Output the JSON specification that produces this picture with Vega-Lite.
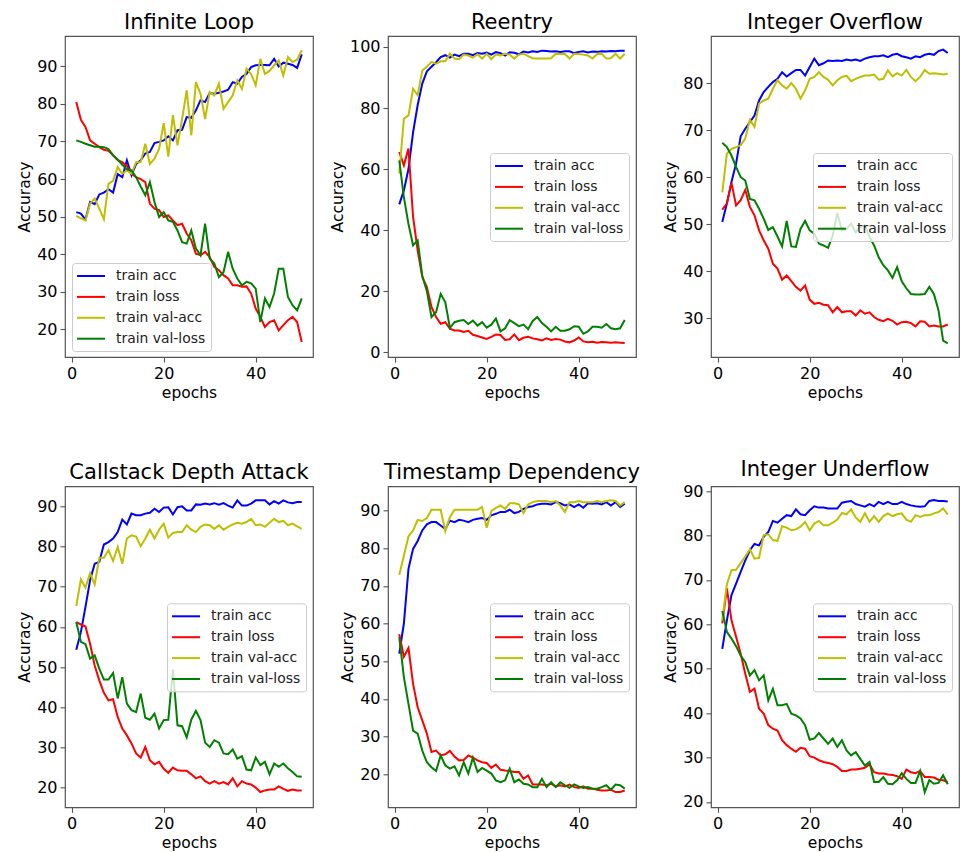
{
"$schema": "https://vega.github.io/schema/vega-lite/v6.json",
"background": "white",
"padding": {"left": 17, "top": 11, "right": 2, "bottom": 5},
"config": {
  "font": "DejaVu Sans",
  "view": {"stroke": "#555", "strokeWidth": 1.2},
  "axis": {"labelFont": "DejaVu Sans", "labelFontSize": 16, "labelColor": "#000", "titleFont": "DejaVu Sans", "titleFontSize": 15.5, "titleFontWeight": "normal", "titleColor": "#000", "tickColor": "#555", "tickSize": 5, "tickWidth": 1.1, "domain": false, "grid": false, "labelPadding": 3, "titlePadding": 4},
  "title": {"font": "DejaVu Sans", "fontSize": 21, "fontWeight": "normal", "color": "#000", "baseline": "alphabetic", "offset": 3, "anchor": "middle"},
  "legend": {"title": null, "orient": "none", "labelFont": "DejaVu Sans", "labelFontSize": 13.9, "labelColor": "#222", "symbolType": "M-2,0H2", "symbolSize": 196, "symbolStrokeWidth": 2, "symbolOffset": 6, "labelOffset": 17, "rowPadding": 5.9, "padding": 5, "fillColor": "rgba(255,255,255,0.8)", "strokeColor": "#cccccc", "cornerRadius": 3},
  "line": {"strokeWidth": 2}
},
"datasets": {
"il": [
{"e":1,"train acc":51.2,"train loss":80.5,"train val-acc":50.2,"train val-loss":70.3},
{"e":2,"train acc":50.8,"train loss":75.8,"train val-acc":49.5,"train val-loss":69.9},
{"e":3,"train acc":49.2,"train loss":73.9,"train val-acc":49.0,"train val-loss":69.4},
{"e":4,"train acc":53.9,"train loss":70.3,"train val-acc":53.5,"train val-loss":69.0},
{"e":5,"train acc":53.3,"train loss":69.4,"train val-acc":54.8,"train val-loss":68.6},
{"e":6,"train acc":55.9,"train loss":68.5,"train val-acc":52.1,"train val-loss":68.6},
{"e":7,"train acc":56.4,"train loss":67.8,"train val-acc":49.3,"train val-loss":68.5},
{"e":8,"train acc":57.3,"train loss":67.5,"train val-acc":58.8,"train val-loss":68.0},
{"e":9,"train acc":56.4,"train loss":66.3,"train val-acc":59.5,"train val-loss":66.3},
{"e":10,"train acc":61.3,"train loss":65.0,"train val-acc":63.2,"train val-loss":65.2},
{"e":11,"train acc":60.5,"train loss":64.5,"train val-acc":61.4,"train val-loss":63.8},
{"e":12,"train acc":65.0,"train loss":63.5,"train val-acc":62.3,"train val-loss":62.6},
{"e":13,"train acc":61.0,"train loss":61.4,"train val-acc":61.4,"train val-loss":62.3},
{"e":14,"train acc":64.0,"train loss":60.5,"train val-acc":64.5,"train val-loss":60.5},
{"e":15,"train acc":65.0,"train loss":60.0,"train val-acc":64.5,"train val-loss":58.0},
{"e":16,"train acc":66.8,"train loss":59.2,"train val-acc":69.4,"train val-loss":55.7},
{"e":17,"train acc":67.2,"train loss":53.4,"train val-acc":64.0,"train val-loss":59.2},
{"e":18,"train acc":69.6,"train loss":52.1,"train val-acc":65.4,"train val-loss":53.9},
{"e":19,"train acc":69.9,"train loss":51.7,"train val-acc":68.0,"train val-loss":49.9},
{"e":20,"train acc":70.3,"train loss":49.9,"train val-acc":74.9,"train val-loss":51.2},
{"e":21,"train acc":71.4,"train loss":50.3,"train val-acc":66.0,"train val-loss":49.0},
{"e":22,"train acc":70.3,"train loss":49.0,"train val-acc":77.0,"train val-loss":48.6},
{"e":23,"train acc":73.0,"train loss":47.7,"train val-acc":69.0,"train val-loss":46.3},
{"e":24,"train acc":73.1,"train loss":48.1,"train val-acc":76.0,"train val-loss":43.2},
{"e":25,"train acc":76.5,"train loss":45.5,"train val-acc":83.6,"train val-loss":42.8},
{"e":26,"train acc":76.3,"train loss":43.7,"train val-acc":71.6,"train val-loss":46.3},
{"e":27,"train acc":78.3,"train loss":40.1,"train val-acc":85.8,"train val-loss":41.5},
{"e":28,"train acc":81.0,"train loss":39.7,"train val-acc":82.7,"train val-loss":39.7},
{"e":29,"train acc":80.5,"train loss":40.6,"train val-acc":76.0,"train val-loss":48.1},
{"e":30,"train acc":82.9,"train loss":39.2,"train val-acc":83.2,"train val-loss":38.8},
{"e":31,"train acc":82.7,"train loss":36.6,"train val-acc":82.3,"train val-loss":37.5},
{"e":32,"train acc":83.0,"train loss":35.7,"train val-acc":85.4,"train val-loss":33.9},
{"e":33,"train acc":83.3,"train loss":34.4,"train val-acc":78.7,"train val-loss":35.2},
{"e":34,"train acc":83.8,"train loss":33.5,"train val-acc":80.5,"train val-loss":40.6},
{"e":35,"train acc":85.8,"train loss":31.7,"train val-acc":82.3,"train val-loss":36.1},
{"e":36,"train acc":85.4,"train loss":31.7,"train val-acc":86.3,"train val-loss":33.5},
{"e":37,"train acc":87.2,"train loss":31.3,"train val-acc":84.0,"train val-loss":31.7},
{"e":38,"train acc":88.0,"train loss":31.4,"train val-acc":89.4,"train val-loss":32.6},
{"e":39,"train acc":89.8,"train loss":29.5,"train val-acc":88.0,"train val-loss":32.2},
{"e":40,"train acc":90.3,"train loss":25.5,"train val-acc":85.0,"train val-loss":30.8},
{"e":41,"train acc":90.4,"train loss":23.3,"train val-acc":92.0,"train val-loss":21.9},
{"e":42,"train acc":90.4,"train loss":20.6,"train val-acc":88.0,"train val-loss":28.2},
{"e":43,"train acc":90.3,"train loss":21.9,"train val-acc":88.8,"train val-loss":25.9},
{"e":44,"train acc":92.0,"train loss":22.4,"train val-acc":90.3,"train val-loss":29.5},
{"e":45,"train acc":90.0,"train loss":19.7,"train val-acc":91.6,"train val-loss":36.1},
{"e":46,"train acc":91.0,"train loss":21.1,"train val-acc":87.6,"train val-loss":36.1},
{"e":47,"train acc":90.7,"train loss":22.4,"train val-acc":92.5,"train val-loss":28.6},
{"e":48,"train acc":90.4,"train loss":23.3,"train val-acc":91.2,"train val-loss":26.4},
{"e":49,"train acc":89.6,"train loss":21.9,"train val-acc":91.8,"train val-loss":25.0},
{"e":50,"train acc":93.2,"train loss":16.6,"train val-acc":94.3,"train val-loss":28.2}
],
"re": [
{"e":1,"train acc":48.4,"train loss":65.6,"train val-acc":58.5,"train val-loss":62.8},
{"e":2,"train acc":53.0,"train loss":61.2,"train val-acc":76.5,"train val-loss":50.8},
{"e":3,"train acc":60.0,"train loss":66.7,"train val-acc":77.6,"train val-loss":42.0},
{"e":4,"train acc":72.0,"train loss":44.3,"train val-acc":86.3,"train val-loss":35.0},
{"e":5,"train acc":81.0,"train loss":33.3,"train val-acc":84.2,"train val-loss":36.6},
{"e":6,"train acc":88.0,"train loss":24.6,"train val-acc":92.3,"train val-loss":25.0},
{"e":7,"train acc":92.0,"train loss":21.3,"train val-acc":93.5,"train val-loss":20.0},
{"e":8,"train acc":93.5,"train loss":14.8,"train val-acc":95.1,"train val-loss":11.5},
{"e":9,"train acc":95.0,"train loss":11.5,"train val-acc":94.5,"train val-loss":13.1},
{"e":10,"train acc":96.7,"train loss":9.3,"train val-acc":95.3,"train val-loss":19.1},
{"e":11,"train acc":97.3,"train loss":9.8,"train val-acc":95.3,"train val-loss":16.4},
{"e":12,"train acc":96.5,"train loss":7.7,"train val-acc":97.8,"train val-loss":7.9},
{"e":13,"train acc":97.5,"train loss":7.1,"train val-acc":96.2,"train val-loss":9.8},
{"e":14,"train acc":97.0,"train loss":7.1,"train val-acc":96.0,"train val-loss":10.3},
{"e":15,"train acc":97.8,"train loss":6.6,"train val-acc":97.5,"train val-loss":10.5},
{"e":16,"train acc":97.8,"train loss":7.0,"train val-acc":97.2,"train val-loss":9.2},
{"e":17,"train acc":97.3,"train loss":5.7,"train val-acc":96.5,"train val-loss":10.3},
{"e":18,"train acc":98.0,"train loss":5.3,"train val-acc":97.6,"train val-loss":8.7},
{"e":19,"train acc":97.8,"train loss":4.8,"train val-acc":96.2,"train val-loss":9.8},
{"e":20,"train acc":98.2,"train loss":4.3,"train val-acc":97.8,"train val-loss":8.0},
{"e":21,"train acc":97.5,"train loss":5.0,"train val-acc":96.0,"train val-loss":9.0},
{"e":22,"train acc":98.3,"train loss":5.8,"train val-acc":97.5,"train val-loss":11.0},
{"e":23,"train acc":98.0,"train loss":5.6,"train val-acc":97.2,"train val-loss":6.8},
{"e":24,"train acc":97.2,"train loss":4.0,"train val-acc":97.8,"train val-loss":7.8},
{"e":25,"train acc":98.3,"train loss":4.2,"train val-acc":97.5,"train val-loss":10.5},
{"e":26,"train acc":98.1,"train loss":5.8,"train val-acc":96.2,"train val-loss":9.5},
{"e":27,"train acc":97.6,"train loss":3.9,"train val-acc":97.5,"train val-loss":8.5},
{"e":28,"train acc":98.5,"train loss":4.7,"train val-acc":97.8,"train val-loss":9.0},
{"e":29,"train acc":98.2,"train loss":5.0,"train val-acc":97.0,"train val-loss":7.5},
{"e":30,"train acc":98.6,"train loss":4.5,"train val-acc":96.3,"train val-loss":10.2},
{"e":31,"train acc":98.4,"train loss":4.2,"train val-acc":96.2,"train val-loss":11.5},
{"e":32,"train acc":98.8,"train loss":3.8,"train val-acc":96.2,"train val-loss":9.5},
{"e":33,"train acc":98.7,"train loss":4.5,"train val-acc":96.2,"train val-loss":8.3},
{"e":34,"train acc":98.5,"train loss":4.0,"train val-acc":96.3,"train val-loss":6.8},
{"e":35,"train acc":98.6,"train loss":4.3,"train val-acc":97.8,"train val-loss":8.3},
{"e":36,"train acc":98.4,"train loss":4.1,"train val-acc":97.7,"train val-loss":7.0},
{"e":37,"train acc":98.6,"train loss":3.5,"train val-acc":97.7,"train val-loss":7.0},
{"e":38,"train acc":98.6,"train loss":3.2,"train val-acc":96.2,"train val-loss":7.5},
{"e":39,"train acc":98.0,"train loss":3.8,"train val-acc":97.8,"train val-loss":8.5},
{"e":40,"train acc":98.4,"train loss":4.8,"train val-acc":97.7,"train val-loss":8.3},
{"e":41,"train acc":98.6,"train loss":3.5,"train val-acc":97.5,"train val-loss":6.0},
{"e":42,"train acc":98.2,"train loss":3.2,"train val-acc":97.2,"train val-loss":6.8},
{"e":43,"train acc":98.5,"train loss":3.4,"train val-acc":96.2,"train val-loss":8.3},
{"e":44,"train acc":98.4,"train loss":3.1,"train val-acc":97.7,"train val-loss":8.3},
{"e":45,"train acc":98.6,"train loss":3.3,"train val-acc":97.8,"train val-loss":8.0},
{"e":46,"train acc":98.5,"train loss":3.2,"train val-acc":96.2,"train val-loss":9.2},
{"e":47,"train acc":98.7,"train loss":3.1,"train val-acc":96.3,"train val-loss":7.8},
{"e":48,"train acc":98.6,"train loss":3.2,"train val-acc":97.8,"train val-loss":7.5},
{"e":49,"train acc":98.8,"train loss":3.1,"train val-acc":96.2,"train val-loss":7.8},
{"e":50,"train acc":98.8,"train loss":3.0,"train val-acc":97.8,"train val-loss":10.5}
],
"io": [
{"e":1,"train acc":50.5,"train loss":53.1,"train val-acc":56.8,"train val-loss":67.3},
{"e":2,"train acc":54.4,"train loss":54.4,"train val-acc":65.0,"train val-loss":66.4},
{"e":3,"train acc":59.0,"train loss":58.8,"train val-acc":66.0,"train val-loss":64.6},
{"e":4,"train acc":62.9,"train loss":54.0,"train val-acc":66.4,"train val-loss":62.2},
{"e":5,"train acc":68.7,"train loss":55.1,"train val-acc":66.8,"train val-loss":60.0},
{"e":6,"train acc":70.3,"train loss":57.3,"train val-acc":68.2,"train val-loss":59.3},
{"e":7,"train acc":71.7,"train loss":53.7,"train val-acc":72.2,"train val-loss":55.4},
{"e":8,"train acc":73.1,"train loss":51.9,"train val-acc":70.7,"train val-loss":55.1},
{"e":9,"train acc":76.3,"train loss":48.7,"train val-acc":75.6,"train val-loss":53.3},
{"e":10,"train acc":78.1,"train loss":46.6,"train val-acc":76.3,"train val-loss":51.2},
{"e":11,"train acc":79.2,"train loss":44.8,"train val-acc":76.7,"train val-loss":48.8},
{"e":12,"train acc":80.2,"train loss":41.6,"train val-acc":78.8,"train val-loss":49.4},
{"e":13,"train acc":80.9,"train loss":40.6,"train val-acc":80.6,"train val-loss":47.4},
{"e":14,"train acc":82.3,"train loss":38.2,"train val-acc":79.5,"train val-loss":45.3},
{"e":15,"train acc":81.4,"train loss":39.1,"train val-acc":78.8,"train val-loss":50.7},
{"e":16,"train acc":82.1,"train loss":37.9,"train val-acc":80.0,"train val-loss":45.3},
{"e":17,"train acc":82.8,"train loss":36.7,"train val-acc":78.8,"train val-loss":45.2},
{"e":18,"train acc":82.8,"train loss":35.9,"train val-acc":76.7,"train val-loss":49.0},
{"e":19,"train acc":81.6,"train loss":37.0,"train val-acc":78.4,"train val-loss":50.7},
{"e":20,"train acc":83.4,"train loss":34.0,"train val-acc":80.9,"train val-loss":48.7},
{"e":21,"train acc":85.2,"train loss":33.1,"train val-acc":81.3,"train val-loss":48.0},
{"e":22,"train acc":83.8,"train loss":33.3,"train val-acc":82.3,"train val-loss":45.9},
{"e":23,"train acc":84.2,"train loss":32.9,"train val-acc":81.3,"train val-loss":45.5},
{"e":24,"train acc":84.8,"train loss":32.8,"train val-acc":80.7,"train val-loss":45.0},
{"e":25,"train acc":84.7,"train loss":31.3,"train val-acc":79.5,"train val-loss":47.6},
{"e":26,"train acc":84.8,"train loss":32.4,"train val-acc":80.6,"train val-loss":52.4},
{"e":27,"train acc":84.7,"train loss":31.3,"train val-acc":81.3,"train val-loss":48.7},
{"e":28,"train acc":85.0,"train loss":31.5,"train val-acc":81.6,"train val-loss":49.0},
{"e":29,"train acc":84.8,"train loss":31.5,"train val-acc":80.4,"train val-loss":50.1},
{"e":30,"train acc":85.0,"train loss":30.6,"train val-acc":80.9,"train val-loss":48.3},
{"e":31,"train acc":84.7,"train loss":31.7,"train val-acc":81.3,"train val-loss":49.4},
{"e":32,"train acc":85.2,"train loss":31.0,"train val-acc":81.6,"train val-loss":49.8},
{"e":33,"train acc":85.5,"train loss":31.3,"train val-acc":81.6,"train val-loss":47.3},
{"e":34,"train acc":85.7,"train loss":30.3,"train val-acc":81.8,"train val-loss":45.5},
{"e":35,"train acc":85.7,"train loss":29.7,"train val-acc":80.7,"train val-loss":43.0},
{"e":36,"train acc":85.9,"train loss":29.4,"train val-acc":80.9,"train val-loss":41.3},
{"e":37,"train acc":85.5,"train loss":29.9,"train val-acc":82.7,"train val-loss":40.2},
{"e":38,"train acc":86.0,"train loss":29.5,"train val-acc":81.4,"train val-loss":38.6},
{"e":39,"train acc":86.2,"train loss":28.7,"train val-acc":82.1,"train val-loss":40.9},
{"e":40,"train acc":85.7,"train loss":29.2,"train val-acc":81.6,"train val-loss":37.9},
{"e":41,"train acc":85.5,"train loss":29.3,"train val-acc":82.8,"train val-loss":36.4},
{"e":42,"train acc":85.2,"train loss":29.0,"train val-acc":81.3,"train val-loss":35.2},
{"e":43,"train acc":85.7,"train loss":28.3,"train val-acc":80.4,"train val-loss":35.1},
{"e":44,"train acc":85.5,"train loss":29.4,"train val-acc":81.3,"train val-loss":35.1},
{"e":45,"train acc":86.0,"train loss":29.3,"train val-acc":82.8,"train val-loss":35.2},
{"e":46,"train acc":86.2,"train loss":28.3,"train val-acc":82.0,"train val-loss":36.7},
{"e":47,"train acc":86.0,"train loss":28.5,"train val-acc":82.1,"train val-loss":35.2},
{"e":48,"train acc":86.8,"train loss":28.3,"train val-acc":82.0,"train val-loss":31.7},
{"e":49,"train acc":87.1,"train loss":28.3,"train val-acc":81.8,"train val-loss":25.3},
{"e":50,"train acc":86.4,"train loss":28.7,"train val-acc":82.0,"train val-loss":24.7}
],
"cs": [
{"e":1,"train acc":54.3,"train loss":61.2,"train val-acc":65.2,"train val-loss":61.2},
{"e":2,"train acc":58.7,"train loss":60.6,"train val-acc":71.8,"train val-loss":56.3},
{"e":3,"train acc":65.0,"train loss":60.1,"train val-acc":69.8,"train val-loss":55.7},
{"e":4,"train acc":71.6,"train loss":55.8,"train val-acc":73.4,"train val-loss":52.1},
{"e":5,"train acc":75.7,"train loss":50.4,"train val-acc":70.6,"train val-loss":52.9},
{"e":6,"train acc":76.2,"train loss":46.7,"train val-acc":77.2,"train val-loss":49.6},
{"e":7,"train acc":80.5,"train loss":43.6,"train val-acc":77.2,"train val-loss":46.9},
{"e":8,"train acc":81.1,"train loss":41.7,"train val-acc":79.1,"train val-loss":46.9},
{"e":9,"train acc":82.0,"train loss":42.0,"train val-acc":76.4,"train val-loss":48.5},
{"e":10,"train acc":83.6,"train loss":37.6,"train val-acc":79.9,"train val-loss":42.2},
{"e":11,"train acc":86.7,"train loss":34.7,"train val-acc":75.7,"train val-loss":47.5},
{"e":12,"train acc":85.5,"train loss":33.0,"train val-acc":82.0,"train val-loss":40.9},
{"e":13,"train acc":88.2,"train loss":31.0,"train val-acc":82.8,"train val-loss":39.3},
{"e":14,"train acc":87.8,"train loss":28.5,"train val-acc":82.5,"train val-loss":38.8},
{"e":15,"train acc":87.8,"train loss":27.5,"train val-acc":80.1,"train val-loss":43.4},
{"e":16,"train acc":88.2,"train loss":30.1,"train val-acc":82.0,"train val-loss":37.4},
{"e":17,"train acc":88.4,"train loss":26.8,"train val-acc":84.2,"train val-loss":36.9},
{"e":18,"train acc":89.4,"train loss":25.8,"train val-acc":82.0,"train val-loss":38.4},
{"e":19,"train acc":88.6,"train loss":26.4,"train val-acc":84.2,"train val-loss":34.7},
{"e":20,"train acc":89.7,"train loss":24.7,"train val-acc":85.7,"train val-loss":36.8},
{"e":21,"train acc":89.8,"train loss":23.7,"train val-acc":82.2,"train val-loss":36.9},
{"e":22,"train acc":88.0,"train loss":25.0,"train val-acc":83.4,"train val-loss":49.4},
{"e":23,"train acc":89.8,"train loss":24.3,"train val-acc":83.6,"train val-loss":35.5},
{"e":24,"train acc":90.0,"train loss":24.2,"train val-acc":83.6,"train val-loss":35.3},
{"e":25,"train acc":89.0,"train loss":24.2,"train val-acc":85.3,"train val-loss":32.5},
{"e":26,"train acc":89.0,"train loss":23.3,"train val-acc":84.2,"train val-loss":36.9},
{"e":27,"train acc":90.5,"train loss":22.3,"train val-acc":83.6,"train val-loss":39.1},
{"e":28,"train acc":90.4,"train loss":22.8,"train val-acc":84.9,"train val-loss":36.8},
{"e":29,"train acc":90.7,"train loss":21.6,"train val-acc":85.5,"train val-loss":31.2},
{"e":30,"train acc":90.5,"train loss":21.0,"train val-acc":85.3,"train val-loss":30.1},
{"e":31,"train acc":90.8,"train loss":21.6,"train val-acc":84.4,"train val-loss":31.8},
{"e":32,"train acc":90.4,"train loss":21.0,"train val-acc":85.3,"train val-loss":31.2},
{"e":33,"train acc":90.8,"train loss":21.4,"train val-acc":84.2,"train val-loss":28.5},
{"e":34,"train acc":90.2,"train loss":20.8,"train val-acc":84.9,"train val-loss":28.3},
{"e":35,"train acc":89.7,"train loss":22.3,"train val-acc":85.5,"train val-loss":29.5},
{"e":36,"train acc":91.5,"train loss":20.3,"train val-acc":85.9,"train val-loss":27.2},
{"e":37,"train acc":90.2,"train loss":21.6,"train val-acc":85.7,"train val-loss":27.8},
{"e":38,"train acc":90.2,"train loss":21.0,"train val-acc":86.1,"train val-loss":24.5},
{"e":39,"train acc":90.7,"train loss":20.8,"train val-acc":86.9,"train val-loss":24.3},
{"e":40,"train acc":91.5,"train loss":20.0,"train val-acc":85.3,"train val-loss":27.5},
{"e":41,"train acc":91.5,"train loss":18.9,"train val-acc":85.5,"train val-loss":25.6},
{"e":42,"train acc":91.5,"train loss":19.3,"train val-acc":84.9,"train val-loss":26.4},
{"e":43,"train acc":90.5,"train loss":19.5,"train val-acc":85.9,"train val-loss":23.3},
{"e":44,"train acc":91.3,"train loss":19.5,"train val-acc":86.9,"train val-loss":26.0},
{"e":45,"train acc":90.7,"train loss":20.3,"train val-acc":86.1,"train val-loss":25.2},
{"e":46,"train acc":91.5,"train loss":19.7,"train val-acc":86.4,"train val-loss":26.0},
{"e":47,"train acc":91.0,"train loss":19.2,"train val-acc":85.3,"train val-loss":24.8},
{"e":48,"train acc":90.8,"train loss":19.5,"train val-acc":85.7,"train val-loss":23.9},
{"e":49,"train acc":91.1,"train loss":19.3,"train val-acc":85.0,"train val-loss":22.8},
{"e":50,"train acc":91.1,"train loss":19.3,"train val-acc":84.4,"train val-loss":22.7}
],
"td": [
{"e":1,"train acc":52.0,"train loss":57.2,"train val-acc":72.9,"train val-loss":56.4},
{"e":2,"train acc":60.0,"train loss":51.2,"train val-acc":78.0,"train val-loss":45.8},
{"e":3,"train acc":74.5,"train loss":53.5,"train val-acc":83.1,"train val-loss":38.7},
{"e":4,"train acc":79.8,"train loss":44.0,"train val-acc":84.7,"train val-loss":31.6},
{"e":5,"train acc":81.9,"train loss":37.8,"train val-acc":87.5,"train val-loss":30.8},
{"e":6,"train acc":84.7,"train loss":34.3,"train val-acc":87.2,"train val-loss":26.3},
{"e":7,"train acc":86.3,"train loss":30.8,"train val-acc":88.0,"train val-loss":23.2},
{"e":8,"train acc":86.9,"train loss":25.9,"train val-acc":90.2,"train val-loss":21.9},
{"e":9,"train acc":86.9,"train loss":26.3,"train val-acc":90.2,"train val-loss":20.9},
{"e":10,"train acc":86.0,"train loss":25.0,"train val-acc":90.2,"train val-loss":25.0},
{"e":11,"train acc":85.1,"train loss":25.3,"train val-acc":84.5,"train val-loss":22.4},
{"e":12,"train acc":87.3,"train loss":26.2,"train val-acc":88.2,"train val-loss":21.5},
{"e":13,"train acc":86.9,"train loss":24.7,"train val-acc":90.2,"train val-loss":22.1},
{"e":14,"train acc":87.5,"train loss":23.7,"train val-acc":90.2,"train val-loss":19.7},
{"e":15,"train acc":87.3,"train loss":23.8,"train val-acc":90.2,"train val-loss":23.2},
{"e":16,"train acc":86.9,"train loss":25.0,"train val-acc":90.2,"train val-loss":20.2},
{"e":17,"train acc":87.5,"train loss":24.4,"train val-acc":90.2,"train val-loss":24.4},
{"e":18,"train acc":87.8,"train loss":23.7,"train val-acc":90.2,"train val-loss":20.6},
{"e":19,"train acc":88.0,"train loss":23.2,"train val-acc":90.9,"train val-loss":21.7},
{"e":20,"train acc":87.5,"train loss":23.0,"train val-acc":85.4,"train val-loss":21.0},
{"e":21,"train acc":88.7,"train loss":21.7,"train val-acc":89.8,"train val-loss":20.2},
{"e":22,"train acc":89.1,"train loss":22.6,"train val-acc":90.7,"train val-loss":18.4},
{"e":23,"train acc":89.6,"train loss":21.2,"train val-acc":91.3,"train val-loss":17.9},
{"e":24,"train acc":89.6,"train loss":21.0,"train val-acc":90.4,"train val-loss":18.4},
{"e":25,"train acc":90.2,"train loss":20.9,"train val-acc":91.9,"train val-loss":21.5},
{"e":26,"train acc":89.3,"train loss":20.6,"train val-acc":91.9,"train val-loss":17.9},
{"e":27,"train acc":89.6,"train loss":20.6,"train val-acc":91.6,"train val-loss":18.6},
{"e":28,"train acc":90.4,"train loss":18.8,"train val-acc":89.3,"train val-loss":17.5},
{"e":29,"train acc":90.9,"train loss":19.7,"train val-acc":91.6,"train val-loss":17.3},
{"e":30,"train acc":91.1,"train loss":17.3,"train val-acc":92.2,"train val-loss":16.6},
{"e":31,"train acc":91.6,"train loss":17.3,"train val-acc":92.5,"train val-loss":16.6},
{"e":32,"train acc":91.8,"train loss":17.3,"train val-acc":92.5,"train val-loss":18.8},
{"e":33,"train acc":91.8,"train loss":17.1,"train val-acc":92.5,"train val-loss":16.6},
{"e":34,"train acc":91.6,"train loss":17.5,"train val-acc":92.2,"train val-loss":17.9},
{"e":35,"train acc":92.2,"train loss":16.8,"train val-acc":92.5,"train val-loss":16.6},
{"e":36,"train acc":91.9,"train loss":17.1,"train val-acc":91.3,"train val-loss":17.9},
{"e":37,"train acc":91.3,"train loss":16.8,"train val-acc":89.6,"train val-loss":17.1},
{"e":38,"train acc":91.6,"train loss":17.3,"train val-acc":92.2,"train val-loss":16.4},
{"e":39,"train acc":90.9,"train loss":16.6,"train val-acc":92.2,"train val-loss":17.3},
{"e":40,"train acc":91.6,"train loss":16.4,"train val-acc":92.5,"train val-loss":16.8},
{"e":41,"train acc":90.7,"train loss":16.8,"train val-acc":92.2,"train val-loss":16.4},
{"e":42,"train acc":91.9,"train loss":16.2,"train val-acc":92.2,"train val-loss":16.6},
{"e":43,"train acc":91.8,"train loss":16.2,"train val-acc":92.2,"train val-loss":16.2},
{"e":44,"train acc":91.9,"train loss":15.9,"train val-acc":92.5,"train val-loss":16.2},
{"e":45,"train acc":91.6,"train loss":15.7,"train val-acc":92.2,"train val-loss":16.6},
{"e":46,"train acc":92.2,"train loss":15.7,"train val-acc":92.5,"train val-loss":17.1},
{"e":47,"train acc":91.3,"train loss":15.9,"train val-acc":92.7,"train val-loss":15.9},
{"e":48,"train acc":92.2,"train loss":15.3,"train val-acc":92.5,"train val-loss":17.3},
{"e":49,"train acc":90.9,"train loss":15.3,"train val-acc":91.3,"train val-loss":17.1},
{"e":50,"train acc":91.8,"train loss":15.7,"train val-acc":92.2,"train val-loss":16.2}
],
"iu": [
{"e":1,"train acc":54.5,"train loss":60.2,"train val-acc":60.9,"train val-loss":63.0},
{"e":2,"train acc":60.9,"train loss":68.1,"train val-acc":69.0,"train val-loss":58.3},
{"e":3,"train acc":66.6,"train loss":60.9,"train val-acc":72.2,"train val-loss":56.8},
{"e":4,"train acc":69.2,"train loss":57.2,"train val-acc":72.3,"train val-loss":55.1},
{"e":5,"train acc":71.8,"train loss":53.4,"train val-acc":73.8,"train val-loss":53.0},
{"e":6,"train acc":74.4,"train loss":48.9,"train val-acc":75.3,"train val-loss":51.5},
{"e":7,"train acc":76.7,"train loss":44.8,"train val-acc":76.9,"train val-loss":48.5},
{"e":8,"train acc":78.1,"train loss":45.5,"train val-acc":74.8,"train val-loss":49.7},
{"e":9,"train acc":77.8,"train loss":41.0,"train val-acc":75.0,"train val-loss":47.4},
{"e":10,"train acc":79.7,"train loss":39.9,"train val-acc":80.1,"train val-loss":48.5},
{"e":11,"train acc":80.8,"train loss":37.3,"train val-acc":80.3,"train val-loss":42.9},
{"e":12,"train acc":83.3,"train loss":36.5,"train val-acc":79.0,"train val-loss":45.5},
{"e":13,"train acc":82.9,"train loss":36.1,"train val-acc":78.8,"train val-loss":41.8},
{"e":14,"train acc":83.8,"train loss":33.9,"train val-acc":82.1,"train val-loss":41.8},
{"e":15,"train acc":84.6,"train loss":32.8,"train val-acc":81.8,"train val-loss":42.1},
{"e":16,"train acc":84.4,"train loss":32.0,"train val-acc":81.2,"train val-loss":39.9},
{"e":17,"train acc":85.9,"train loss":31.3,"train val-acc":81.4,"train val-loss":39.5},
{"e":18,"train acc":84.8,"train loss":32.2,"train val-acc":82.0,"train val-loss":38.8},
{"e":19,"train acc":84.6,"train loss":32.0,"train val-acc":83.1,"train val-loss":37.3},
{"e":20,"train acc":85.7,"train loss":30.3,"train val-acc":81.2,"train val-loss":34.0},
{"e":21,"train acc":86.6,"train loss":30.0,"train val-acc":82.7,"train val-loss":34.3},
{"e":22,"train acc":86.3,"train loss":29.4,"train val-acc":83.3,"train val-loss":35.5},
{"e":23,"train acc":86.3,"train loss":29.0,"train val-acc":82.3,"train val-loss":34.3},
{"e":24,"train acc":86.1,"train loss":28.8,"train val-acc":82.3,"train val-loss":33.1},
{"e":25,"train acc":86.1,"train loss":28.5,"train val-acc":82.9,"train val-loss":34.3},
{"e":26,"train acc":86.1,"train loss":27.9,"train val-acc":83.6,"train val-loss":32.4},
{"e":27,"train acc":87.4,"train loss":27.0,"train val-acc":85.1,"train val-loss":33.9},
{"e":28,"train acc":87.6,"train loss":27.0,"train val-acc":84.8,"train val-loss":31.6},
{"e":29,"train acc":87.8,"train loss":27.3,"train val-acc":85.9,"train val-loss":30.5},
{"e":30,"train acc":87.1,"train loss":27.3,"train val-acc":84.1,"train val-loss":31.2},
{"e":31,"train acc":86.8,"train loss":27.5,"train val-acc":83.1,"train val-loss":29.7},
{"e":32,"train acc":86.5,"train loss":27.7,"train val-acc":85.0,"train val-loss":28.2},
{"e":33,"train acc":87.1,"train loss":28.5,"train val-acc":83.1,"train val-loss":29.0},
{"e":34,"train acc":86.6,"train loss":26.7,"train val-acc":84.4,"train val-loss":24.5},
{"e":35,"train acc":87.6,"train loss":26.4,"train val-acc":83.1,"train val-loss":24.5},
{"e":36,"train acc":87.1,"train loss":26.4,"train val-acc":84.4,"train val-loss":25.6},
{"e":37,"train acc":87.6,"train loss":26.2,"train val-acc":85.0,"train val-loss":24.1},
{"e":38,"train acc":87.1,"train loss":26.1,"train val-acc":84.4,"train val-loss":24.0},
{"e":39,"train acc":87.1,"train loss":25.8,"train val-acc":84.8,"train val-loss":24.9},
{"e":40,"train acc":87.6,"train loss":25.2,"train val-acc":85.0,"train val-loss":26.5},
{"e":41,"train acc":87.1,"train loss":27.3,"train val-acc":83.6,"train val-loss":25.2},
{"e":42,"train acc":86.8,"train loss":26.7,"train val-acc":83.1,"train val-loss":24.3},
{"e":43,"train acc":86.6,"train loss":26.5,"train val-acc":84.6,"train val-loss":24.3},
{"e":44,"train acc":86.5,"train loss":27.0,"train val-acc":84.2,"train val-loss":27.0},
{"e":45,"train acc":86.6,"train loss":25.6,"train val-acc":84.6,"train val-loss":22.2},
{"e":46,"train acc":87.8,"train loss":25.6,"train val-acc":84.6,"train val-loss":24.9},
{"e":47,"train acc":88.0,"train loss":25.5,"train val-acc":85.0,"train val-loss":24.1},
{"e":48,"train acc":87.8,"train loss":25.0,"train val-acc":85.3,"train val-loss":24.3},
{"e":49,"train acc":87.8,"train loss":24.9,"train val-acc":86.1,"train val-loss":26.0},
{"e":50,"train acc":87.7,"train loss":24.5,"train val-acc":84.8,"train val-loss":24.0}
]
},
"concat": [
{"title": "Infinite Loop", "width": 248, "height": 321, "data": {"name": "il"},
 "transform": [{"fold": ["train acc", "train loss", "train val-acc", "train val-loss"], "as": ["series", "value"]}],
 "mark": {"type": "line", "strokeWidth": 2},
 "encoding": {
  "x": {"field": "e", "type": "quantitative", "scale": {"domain": [-1.45, 52.45], "nice": false, "zero": false}, "axis": {"values": [0, 20, 40], "title": "epochs"}},
  "y": {"field": "value", "type": "quantitative", "scale": {"domain": [12.6, 98.1], "nice": false, "zero": false}, "axis": {"values": [20, 30, 40, 50, 60, 70, 80, 90], "title": "Accuracy"}},
  "color": {"field": "series", "type": "nominal", "scale": {"domain": ["train acc", "train loss", "train val-acc", "train val-loss"], "range": ["#0000ff", "#ff0000", "#bfbf00", "#008000"]}, "legend": {"orient": "none", "legendX": 7, "legendY": 227, "title": null}}
 }},
{"title": "Reentry", "width": 248, "height": 321, "data": {"name": "re"},
 "transform": [{"fold": ["train acc", "train loss", "train val-acc", "train val-loss"], "as": ["series", "value"]}],
 "mark": {"type": "line", "strokeWidth": 2},
 "encoding": {
  "x": {"field": "e", "type": "quantitative", "scale": {"domain": [-1.45, 52.45], "nice": false, "zero": false}, "axis": {"values": [0, 20, 40], "title": "epochs"}},
  "y": {"field": "value", "type": "quantitative", "scale": {"domain": [-1.6, 103.6], "nice": false, "zero": false}, "axis": {"values": [0, 20, 40, 60, 80, 100], "title": "Accuracy"}},
  "color": {"field": "series", "type": "nominal", "scale": {"domain": ["train acc", "train loss", "train val-acc", "train val-loss"], "range": ["#0000ff", "#ff0000", "#bfbf00", "#008000"]}, "legend": {"orient": "none", "legendX": 102, "legendY": 117, "title": null}}
 }},
{"title": "Integer Overflow", "width": 248, "height": 321, "data": {"name": "io"},
 "transform": [{"fold": ["train acc", "train loss", "train val-acc", "train val-loss"], "as": ["series", "value"]}],
 "mark": {"type": "line", "strokeWidth": 2},
 "encoding": {
  "x": {"field": "e", "type": "quantitative", "scale": {"domain": [-1.45, 52.45], "nice": false, "zero": false}, "axis": {"values": [0, 20, 40], "title": "epochs"}},
  "y": {"field": "value", "type": "quantitative", "scale": {"domain": [21.8, 90.0], "nice": false, "zero": false}, "axis": {"values": [30, 40, 50, 60, 70, 80], "title": "Accuracy"}},
  "color": {"field": "series", "type": "nominal", "scale": {"domain": ["train acc", "train loss", "train val-acc", "train val-loss"], "range": ["#0000ff", "#ff0000", "#bfbf00", "#008000"]}, "legend": {"orient": "none", "legendX": 102, "legendY": 117, "title": null}}
 }},
{"title": "Callstack Depth Attack", "width": 248, "height": 321, "data": {"name": "cs"},
 "transform": [{"fold": ["train acc", "train loss", "train val-acc", "train val-loss"], "as": ["series", "value"]}],
 "mark": {"type": "line", "strokeWidth": 2},
 "encoding": {
  "x": {"field": "e", "type": "quantitative", "scale": {"domain": [-1.45, 52.45], "nice": false, "zero": false}, "axis": {"values": [0, 20, 40], "title": "epochs"}},
  "y": {"field": "value", "type": "quantitative", "scale": {"domain": [15.1, 95.0], "nice": false, "zero": false}, "axis": {"values": [20, 30, 40, 50, 60, 70, 80, 90], "title": "Accuracy"}},
  "color": {"field": "series", "type": "nominal", "scale": {"domain": ["train acc", "train loss", "train val-acc", "train val-loss"], "range": ["#0000ff", "#ff0000", "#bfbf00", "#008000"]}, "legend": {"orient": "none", "legendX": 102, "legendY": 117, "title": null}}
 }},
{"title": "Timestamp Dependency", "width": 248, "height": 321, "data": {"name": "td"},
 "transform": [{"fold": ["train acc", "train loss", "train val-acc", "train val-loss"], "as": ["series", "value"]}],
 "mark": {"type": "line", "strokeWidth": 2},
 "encoding": {
  "x": {"field": "e", "type": "quantitative", "scale": {"domain": [-1.45, 52.45], "nice": false, "zero": false}, "axis": {"values": [0, 20, 40], "title": "epochs"}},
  "y": {"field": "value", "type": "quantitative", "scale": {"domain": [11.25, 96.4], "nice": false, "zero": false}, "axis": {"values": [20, 30, 40, 50, 60, 70, 80, 90], "title": "Accuracy"}},
  "color": {"field": "series", "type": "nominal", "scale": {"domain": ["train acc", "train loss", "train val-acc", "train val-loss"], "range": ["#0000ff", "#ff0000", "#bfbf00", "#008000"]}, "legend": {"orient": "none", "legendX": 102, "legendY": 117, "title": null}}
 }},
{"title": "Integer Underflow", "width": 248, "height": 321, "data": {"name": "iu"},
 "transform": [{"fold": ["train acc", "train loss", "train val-acc", "train val-loss"], "as": ["series", "value"]}],
 "mark": {"type": "line", "strokeWidth": 2},
 "encoding": {
  "x": {"field": "e", "type": "quantitative", "scale": {"domain": [-1.45, 52.45], "nice": false, "zero": false}, "axis": {"values": [0, 20, 40], "title": "epochs"}},
  "y": {"field": "value", "type": "quantitative", "scale": {"domain": [18.8, 91.1], "nice": false, "zero": false}, "axis": {"values": [20, 30, 40, 50, 60, 70, 80, 90], "title": "Accuracy"}},
  "color": {"field": "series", "type": "nominal", "scale": {"domain": ["train acc", "train loss", "train val-acc", "train val-loss"], "range": ["#0000ff", "#ff0000", "#bfbf00", "#008000"]}, "legend": {"orient": "none", "legendX": 102, "legendY": 117, "title": null}}
 }}
],
"columns": 3,
"spacing": {"row": 129.3, "column": 75},
"bounds": "flush",
"resolve": {"scale": {"color": "independent", "x": "independent", "y": "independent"}, "legend": {"color": "independent"}}
}
